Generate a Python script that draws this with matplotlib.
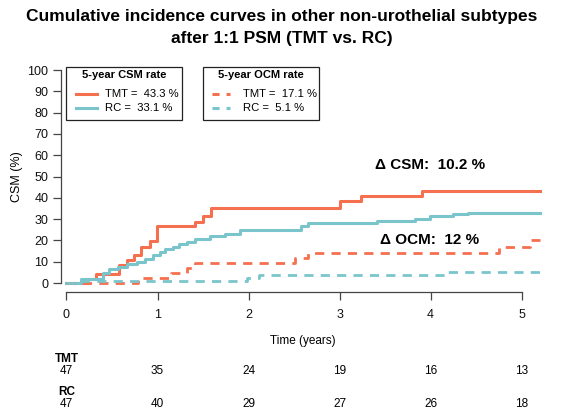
import numpy as np
import matplotlib
matplotlib.use("Agg")
import matplotlib.pyplot as plt
from matplotlib.lines import Line2D
from matplotlib.patches import Rectangle
import matplotlib.transforms as mtransforms

plt.rcParams['font.family'] = ['Liberation Sans', 'DejaVu Sans']

# cumulative incidence step curves (time in years, percent)
tmt_csm_t = [0, 0.24, 0.32, 0.58, 0.66, 0.74, 0.82, 0.92, 0.99, 1.41, 1.50, 1.585, 3.0, 3.24, 3.91, 5.2]
tmt_csm_y = [0, 2.1, 4.3, 8.5, 10.6, 13.0, 17.0, 19.6, 26.6, 28.8, 31.4, 35.3, 38.3, 40.8, 43.3, 43.3]

rc_csm_t = [0, 0.165, 0.40, 0.47, 0.57, 0.66, 0.77, 0.86, 0.95, 1.03, 1.08, 1.17, 1.24, 1.32,
            1.41, 1.575, 1.74, 1.91, 2.58, 2.655, 3.41, 3.83, 3.99, 4.25, 4.41, 5.2]
rc_csm_y = [0, 2.1, 4.6, 6.6, 7.7, 8.9, 10.1, 11.5, 13.1, 14.7, 15.8, 17.0, 18.2, 19.4,
            20.6, 22.0, 23.2, 24.9, 26.8, 28.0, 29.1, 30.3, 31.4, 32.3, 33.1, 33.1]

tmt_ocm_t = [0, 0.79, 1.15, 1.32, 1.41, 2.51, 2.655, 4.75, 5.09, 5.2]
tmt_ocm_y = [0, 2.2, 4.5, 6.9, 9.2, 11.6, 14.0, 17.1, 20.3, 20.3]

rc_ocm_t = [0, 0.17, 1.98, 2.12, 4.16, 5.2]
rc_ocm_y = [0, 1.1, 2.6, 4.0, 5.1, 5.1]

# 5-year rates shown in the legends
csm_rates = {"TMT": 43.3, "RC": 33.1}
ocm_rates = {"TMT": 17.1, "RC": 5.1}
delta_csm = 10.2
delta_ocm = 12

# numbers at risk
risk_times = [0, 1, 2, 3, 4, 5]
risk_tmt = [47, 35, 24, 19, 16, 13]
risk_rc = [47, 40, 29, 27, 26, 18]

title_lines = ["Cumulative incidence curves in other non-urothelial subtypes",
               "after 1:1 PSM (TMT vs. RC)"]

red = "#F4704F"
teal = "#7AC5CC"

W, H = 564, 409
fig = plt.figure(figsize=(W / 100, H / 100), dpi=100)
ax = fig.add_axes([61 / W, (H - 292) / H, (545 - 61) / W, (292 - 61.5) / H])

dash = (0, (3.3, 2.6))
ax.step(tmt_csm_t, tmt_csm_y, where="post", color=red, lw=2.2)
ax.step(rc_csm_t, rc_csm_y, where="post", color=teal, lw=2.2)
ax.step(tmt_ocm_t, tmt_ocm_y, where="post", color=red, lw=2.0, linestyle=dash)
ax.step(rc_ocm_t, rc_ocm_y, where="post", color=teal, lw=2.0, linestyle=dash)

ax.set_xlim(-0.06, 5.256)
ax.set_ylim(-4.2, 104)
for s in ["top", "right"]:
    ax.spines[s].set_visible(False)
ax.spines["left"].set_bounds(0, 100)
ax.spines["bottom"].set_bounds(0, 5)
for s in ["left", "bottom"]:
    ax.spines[s].set_color("#444444")
    ax.spines[s].set_linewidth(0.9)
ax.set_xticks(range(6))
ax.set_yticks(range(0, 101, 10))
ax.tick_params(axis="both", direction="out", length=5.5, width=0.9, color="#444444",
               labelsize=9, labelcolor="#111111")
ax.tick_params(axis="x", pad=7)
ax.tick_params(axis="y", pad=3.5)
ax.set_xlabel("Time (years)", fontsize=8.5, labelpad=10)
ax.set_ylabel("CSM (%)", fontsize=9, labelpad=3)


def fx(px):
    return px / W


def fy(py):
    return 1 - py / H


# two-line bold title
for line, ty in zip(title_lines, [16, 38]):
    fig.text(fx(282), fy(ty), line, ha="center", va="center", fontsize=12.5, fontweight="bold")


# legend boxes drawn by hand, R style
def legend_box(x0, x1, title, labels, styles, hx, tx):
    fig.add_artist(Rectangle((fx(x0), fy(120)), fx(x1) - fx(x0), fy(67) - fy(120),
                             transform=fig.transFigure, fill=False, edgecolor="#222222", lw=0.9))
    fig.text(fx((x0 + x1) / 2), fy(75.5), title, ha="center", va="center",
             fontsize=8, fontweight="bold")
    for row_y, lab, (col, ls) in zip([94, 108], labels, styles):
        fig.add_artist(Line2D([fx(hx[0]), fx(hx[1])], [fy(row_y), fy(row_y)],
                              transform=fig.transFigure, color=col, lw=2.2, linestyle=ls))
        fig.text(fx(tx), fy(row_y), lab, ha="left", va="center", fontsize=8.1)


legend_box(66, 182, "5-year CSM rate",
           [f"TMT =  {csm_rates['TMT']} %", f"RC =  {csm_rates['RC']} %"],
           [(red, "-"), (teal, "-")], (76, 97), 105)
legend_box(203, 319, "5-year OCM rate",
           [f"TMT =  {ocm_rates['TMT']} %", f"RC =  {ocm_rates['RC']} %"],
           [(red, (0, (2.3, 2.3))), (teal, (0, (2.3, 2.3)))], (212, 230), 243)

ax.text(3.99, 55.4, f"\u0394 CSM:  {delta_csm} %", fontsize=11, fontweight="bold", ha="center", va="center")
ax.text(3.99, 20.2, f"\u0394 OCM:  {delta_ocm} %", fontsize=11, fontweight="bold", ha="center", va="center")

# number at risk table
trans = mtransforms.blended_transform_factory(ax.transData, fig.transFigure)
ax.text(0, fy(359), "TMT", transform=trans, ha="center", va="center", fontsize=8.5, fontweight="bold")
ax.text(0, fy(392), "RC", transform=trans, ha="center", va="center", fontsize=8.5, fontweight="bold")
for t, a, b in zip(risk_times, risk_tmt, risk_rc):
    ax.text(t, fy(371), str(a), transform=trans, ha="center", va="center", fontsize=8.5)
    ax.text(t, fy(404), str(b), transform=trans, ha="center", va="center", fontsize=8.5)

fig.savefig("out.png", dpi=100)
